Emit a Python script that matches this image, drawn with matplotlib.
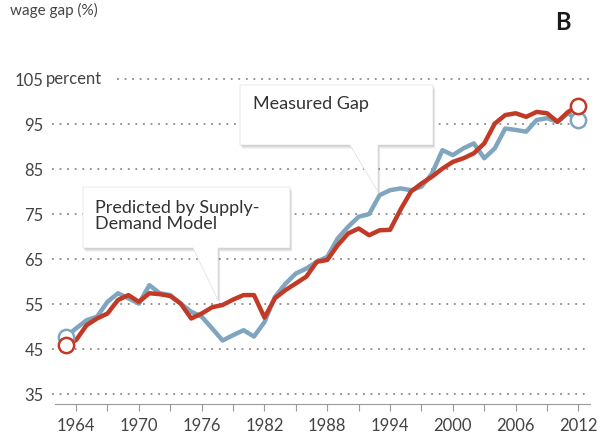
import numpy as np
import matplotlib.pyplot as plt
from matplotlib.patches import Polygon

plt.rcParams['font.family'] = ['Lato', 'DejaVu Sans']

years = np.arange(1963, 2013)
measured = [47.7, 49.6, 51.4, 52.2, 55.5, 57.4, 56.3, 55.1, 59.2, 57.4,
            57.0, 55.1, 53.3, 52.2, 49.6, 46.9, 48.1, 49.2, 47.8, 51.0,
            56.6, 59.5, 61.8, 62.9, 64.4, 65.5, 69.6, 72.2, 74.4, 75.0,
            79.2, 80.3, 80.7, 80.3, 81.1, 84.0, 89.2, 88.1, 89.6, 90.7,
            87.4, 89.6, 94.0, 93.7, 93.3, 95.9, 96.3, 95.5, 97.4, 95.8]
predicted = [46.0, 47.0, 50.3, 51.8, 52.9, 55.9, 57.0, 55.5, 57.4, 57.2,
             56.8, 55.1, 51.8, 52.9, 54.3, 54.8, 56.0, 57.0, 57.0, 52.0,
             56.3, 58.1, 59.6, 61.1, 64.4, 64.8, 68.1, 70.7, 71.8, 70.3,
             71.4, 71.5, 76.0, 80.0, 81.8, 83.3, 85.1, 86.6, 87.4, 88.5,
             90.7, 95.1, 97.0, 97.4, 96.6, 97.7, 97.4, 95.5, 97.7, 99.0]
yticks = [35, 45, 55, 65, 75, 85, 95, 105]
xticks = list(range(1964, 2013, 3))
xlabels = ['1964', '1970', '1976', '1982', '1988', '1994', '2000', '2006', '2012']

W, H = 603, 434
blue = '#7fa5bf'
red = '#c23a26'
grey = '#8a8a8a'
txt = '#444444'

fig = plt.figure(figsize=(W / 100, H / 100), dpi=100)
ax = fig.add_axes([52 / W, 30 / H, 538 / W, 329 / H])
ax.set_xlim(1961.7, 2013.1)
ax.set_ylim(32.8, 105.9)

# dotted gridlines (105 starts after the "percent" label)
for v in yticks:
    x0 = 0.12 if v == 105 else 0.0
    ax.axhline(v, xmin=x0, xmax=1, color=grey, lw=1.3, ls=(0, (1, 3.2)), zorder=1)

ax.plot(years, measured, color=blue, lw=3.2, solid_joinstyle='round', zorder=5)
ax.plot(years, predicted, color=red, lw=3.2, solid_joinstyle='round', zorder=6)
ends = [0, -1]
ax.plot(years[ends], [measured[i] for i in ends], 'o', ms=11, mfc='white',
        mec=blue, mew=1.8, zorder=7)
ax.plot(years[ends], [predicted[i] for i in ends], 'o', ms=11, mfc='white',
        mec=red, mew=1.8, zorder=8)

for s in ['top', 'right', 'left']:
    ax.spines[s].set_visible(False)
ax.spines['bottom'].set_color('#999999')
ax.spines['bottom'].set_bounds(1962.0, 2013.1)

ax.set_xticks(xticks)
ax.set_xticklabels([xlabels[i // 2] if i % 2 == 0 else '' for i in range(len(xticks))])
ax.tick_params(axis='x', length=5, color='#999999', labelsize=12, labelcolor=txt, pad=5)
ax.set_yticks(yticks)
ax.set_yticklabels([str(v) for v in yticks])
ax.tick_params(axis='y', length=0, labelsize=12, labelcolor=txt, pad=6)
ax.text(-0.012, 105, 'percent', transform=ax.get_yaxis_transform(),
        ha='left', va='center', fontsize=12, color=txt)


def px(x, y):
    return (x / W, 1 - y / H)


def callout(L, T, R, B, p1, p2, tip):
    pts = [(L, T), (R, T), (R, B), (p2, B), tip, (p1, B), (L, B)]
    for k, a in [(4, 0.04), (3, 0.05), (2, 0.07), (1, 0.08)]:
        sh = Polygon([px(x + k * 0.6, y + k) for x, y in pts], closed=True,
                     transform=fig.transFigure, fc='black', ec='none',
                     alpha=a, zorder=2)
        ax.add_artist(sh)
    ax.add_artist(Polygon([px(x, y) for x, y in pts], closed=True,
                          transform=fig.transFigure, fc='white', ec='#e6e6e6',
                          lw=0.6, zorder=3))


callout(240, 85, 433, 145, 350, 378, (378, 192))
callout(83, 187, 290, 248, 193, 218, (218, 300))

fig.text(*px(253, 104), 'Measured Gap', fontsize=13, color='#333333',
         ha='left', va='center', zorder=10)
fig.text(*px(95, 216), 'Predicted by Supply-\nDemand Model', fontsize=13,
         color='#333333', ha='left', va='center', linespacing=1.0, zorder=10)

fig.text(*px(10, 3), 'wage gap (%)', fontsize=11, color=txt, ha='left', va='top')
fig.text(*px(563, 23), 'B', fontsize=17, fontweight='bold', color='#1a1a1a',
         ha='center', va='center')

fig.savefig('out.png', dpi=100)
